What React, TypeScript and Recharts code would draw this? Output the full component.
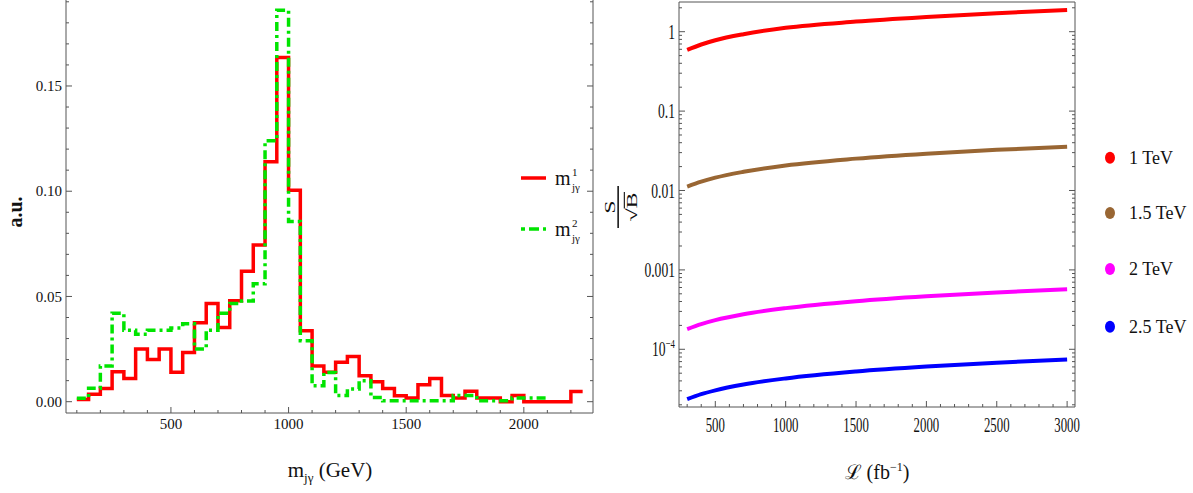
import React from "react";
import { LineChart, Line, XAxis, YAxis, Legend } from "recharts";

// ---- left panel: m_jγ distributions (50 GeV bins, lower edges) ----
const massEdges = [
  100, 150, 200, 250, 300, 350, 400, 450, 500, 550, 600, 650, 700, 750, 800, 850, 900, 950,
  1000, 1050, 1100, 1150, 1200, 1250, 1300, 1350, 1400, 1450, 1500, 1550, 1600, 1650, 1700,
  1750, 1800, 1850, 1900, 1950, 2000, 2050, 2100, 2150, 2200, 2250,
];
const histM1 = [
  0.001, 0.0035, 0.0063, 0.0142, 0.011, 0.025, 0.020, 0.025, 0.014, 0.0234, 0.0375, 0.0467,
  0.0353, 0.048, 0.062, 0.0744, 0.114, 0.1635, 0.1005, 0.0337, 0.017, 0.014, 0.0187, 0.0215,
  0.0123, 0.0095, 0.0063, 0.0028, 0.0017, 0.008, 0.011, 0.003, 0.0017, 0.005, 0.0017, 0.0017,
  0.0, 0.003, 0.0, 0.0, 0.0, 0.0, 0.0048,
];
const histM2 = [
  0.0016, 0.0064, 0.017, 0.042, 0.034, 0.032, 0.034, 0.034, 0.035, 0.037, 0.025, 0.034, 0.042,
  0.0467, 0.0478, 0.056, 0.124, 0.186, 0.0856, 0.029, 0.0076, 0.0139, 0.003, 0.006, 0.010,
  0.002, 0.0005, 0.0005, 0.0005, 0.0005, 0.0005, 0.0005, 0.003, 0.003, 0.0005, 0.0005, 0.0005,
  0.0017, 0.0017, 0.0017,
];
const massTicks = [
  100, 200, 300, 400, 500, 600, 700, 800, 900, 1000, 1100, 1200, 1300, 1400, 1500, 1600, 1700,
  1800, 1900, 2000, 2100, 2200,
];
const massLabels = [500, 1000, 1500, 2000];
const auTicks = [
  0, 0.01, 0.02, 0.03, 0.04, 0.05, 0.06, 0.07, 0.08, 0.09, 0.1, 0.11, 0.12, 0.13, 0.14, 0.15,
  0.16, 0.17, 0.18, 0.19,
];
const auLabels = [0, 0.05, 0.1, 0.15];

// ---- right panel: S/sqrt(B) vs luminosity ----
const lumi = [300, 400, 500, 700, 1000, 1500, 2000, 2500, 3000];
const sig1TeV = [0.59, 0.69, 0.78, 0.93, 1.12, 1.34, 1.53, 1.71, 1.87];
const sig15TeV = [0.0112, 0.0129, 0.0145, 0.0172, 0.0207, 0.0252, 0.0291, 0.0325, 0.0355];
const sig2TeV = [1.8e-4, 2.08e-4, 2.33e-4, 2.76e-4, 3.3e-4, 4.04e-4, 4.66e-4, 5.2e-4, 5.7e-4];
const sig25TeV = [2.35e-5, 2.72e-5, 3.04e-5, 3.6e-5, 4.3e-5, 5.26e-5, 6.07e-5, 6.79e-5, 7.45e-5];
const lumiTicks = [
  300, 400, 500, 600, 700, 800, 900, 1000, 1100, 1200, 1300, 1400, 1500, 1600, 1700, 1800, 1900,
  2000, 2100, 2200, 2300, 2400, 2500, 2600, 2700, 2800, 2900, 3000,
];
const lumiLabels = [500, 1000, 1500, 2000, 2500, 3000];
const decades = [1e-5, 1e-4, 1e-3, 0.01, 0.1, 1];
const mantissas = [1, 2, 3, 4, 5, 6, 7, 8, 9];
const massNames = ["1 TeV", "1.5 TeV", "2 TeV", "2.5 TeV"];
const massColors = ["#ff0000", "#996633", "#ff00ff", "#0000ff"];

const SIG_DOMAIN: [number, number] = [1.876e-5, 2.366];
const sigTicks = decades
  .flatMap((d) => mantissas.map((m) => m * d))
  .filter((v) => v >= SIG_DOMAIN[0] && v <= SIG_DOMAIN[1]);

const FONT = "'Liberation Serif', 'Times New Roman', serif";
const FRAME = "#555";

const toSteps = (vals: number[]) =>
  vals
    .map((v, i) => ({ m: massEdges[i], v }))
    .concat([{ m: massEdges[vals.length], v: vals[vals.length - 1] }]);

const stepsM1 = toSteps(histM1);
const stepsM2 = toSteps(histM2);
const sigData = lumi.map((L, i) => ({
  L,
  a: sig1TeV[i],
  b: sig15TeV[i],
  c: sig2TeV[i],
  d: sig25TeV[i],
}));

type Side = "bottom" | "top" | "left" | "right";

function makeTick(
  side: Side,
  isMajor: (v: number) => boolean,
  fmt: ((v: number) => React.ReactNode) | null,
  fontSize = 15,
  squeeze = 1,
  gap = 0
) {
  return (p: any) => {
    const { x, y, payload } = p;
    const v = payload.value as number;
    const major = isMajor(v);
    const len = major ? 6 : 3;
    let x2 = x;
    let y2 = y;
    if (side === "bottom") y2 = y - len;
    if (side === "top") y2 = y + len;
    if (side === "left") x2 = x + len;
    if (side === "right") x2 = x - len;
    let lbl: React.ReactNode = null;
    if (fmt && major) {
      if (side === "bottom")
        lbl = (
          <text transform={`translate(${x},${y + gap}) scale(${squeeze},1)`} textAnchor="middle"
            fontFamily={FONT} fontSize={fontSize} fill="#111">
            {fmt(v)}
          </text>
        );
      if (side === "left")
        lbl = (
          <text transform={`translate(${x - gap},${y}) scale(${squeeze},1)`} textAnchor="end"
            dy="0.35em" fontFamily={FONT} fontSize={fontSize} fill="#111">
            {fmt(v)}
          </text>
        );
    }
    return (
      <g>
        <line x1={x} y1={y} x2={x2} y2={y2} stroke={FRAME} strokeWidth={1} />
        {lbl}
      </g>
    );
  };
}

const isMass = (v: number) => massLabels.includes(v);
const isAu = (v: number) => auLabels.includes(v);
const isLumi = (v: number) => lumiLabels.includes(v);
const isDecade = (v: number) => decades.includes(v);

const fmtSig = (v: number) =>
  v >= 0.001 ? (
    String(v)
  ) : (
    <>
      <tspan>10</tspan>
      <tspan dy={-8} fontSize={13}>−{Math.round(-Math.log10(v))}</tspan>
    </>
  );

const axisCommon = {
  tickSize: 0,
  tickMargin: 0,
  tickLine: false,
  interval: 0 as const,
  allowDataOverflow: true,
  axisLine: { stroke: FRAME, strokeWidth: 1 },
};

function MassLegend() {
  return (
    <svg width={90} height={90}>
      <line x1={3} x2={28} y1={16} y2={16} stroke="#ff0000" strokeWidth={3.5} />
      <text x={37} y={23} fontFamily={FONT} fontSize={20} fill="#111">m</text>
      <text x={54} y={14} fontFamily={FONT} fontSize={11} fill="#111">1</text>
      <text x={54} y={29} fontFamily={FONT} fontSize={11} fill="#111">jγ</text>
      <line x1={3} x2={28} y1={67} y2={67} stroke="#00e400" strokeWidth={3.5} strokeDasharray="4 4 10 4" />
      <text x={37} y={74} fontFamily={FONT} fontSize={20} fill="#111">m</text>
      <text x={54} y={65} fontFamily={FONT} fontSize={11} fill="#111">2</text>
      <text x={54} y={80} fontFamily={FONT} fontSize={11} fill="#111">jγ</text>
    </svg>
  );
}

function SigLegend() {
  const ys = [17.7, 73, 129, 186.7];
  return (
    <svg width={103} height={200}>
      {massNames.map((n, i) => (
        <g key={n}>
          <ellipse cx={20} cy={ys[i]} rx={5} ry={6} fill={massColors[i]} />
          <text x={39} y={ys[i] + 6} fontFamily={FONT} fontSize={18} fill="#111">{n}</text>
        </g>
      ))}
    </svg>
  );
}

export default function App() {
  return (
    <div style={{ position: "absolute", left: 0, top: 0, width: 1193, height: 493, background: "#fff", overflow: "hidden" }}>
      <div style={{ position: "absolute", left: 0, top: -3 }}>
        <LineChart width={600} height={496} margin={{ top: 0, right: 6, bottom: 0, left: 0 }}>
          <XAxis dataKey="m" type="number" domain={[54, 2294]} ticks={massTicks} height={80}
            tick={makeTick("bottom", isMass, (v) => String(v), 15, 1, 16)} {...axisCommon} />
          <XAxis xAxisId="top" orientation="top" type="number" domain={[54, 2294]} ticks={massTicks}
            height={1} tick={makeTick("top", isMass, null)} {...axisCommon} />
          <YAxis type="number" domain={[-0.00537, 0.1918]} ticks={auTicks} width={66}
            tick={makeTick("left", isAu, (v) => v.toFixed(2), 15, 1, 4)} {...axisCommon} />
          <YAxis yAxisId="right" orientation="right" type="number" domain={[-0.00537, 0.1918]}
            ticks={auTicks} width={1} tick={makeTick("right", isAu, null)} {...axisCommon} />
          <Line data={stepsM1} dataKey="v" type="stepAfter" stroke="#ff0000" strokeWidth={3.5}
            dot={false} activeDot={false} isAnimationActive={false} />
          <Line data={stepsM2} dataKey="v" type="stepAfter" stroke="#00e400" strokeWidth={3.5}
            strokeDasharray="9 4 3 4" dot={false} activeDot={false} isAnimationActive={false} />
          <Legend layout="horizontal" align="center" verticalAlign="middle" content={() => <MassLegend />}
            wrapperStyle={{ left: 518, top: 165, width: 90, height: 90 }} />
        </LineChart>
      </div>

      <div style={{ position: "absolute", left: 600, top: 0 }}>
        <LineChart width={593} height={493} data={sigData} margin={{ top: 1, right: 117, bottom: 0, left: 0 }}>
          <XAxis dataKey="L" type="number" domain={[242, 3056]} ticks={lumiTicks} height={86}
            tick={makeTick("bottom", isLumi, (v) => String(v), 20, 0.64, 25)} {...axisCommon} />
          <XAxis xAxisId="top" orientation="top" type="number" domain={[242, 3056]} ticks={lumiTicks}
            height={1} tick={makeTick("top", isLumi, null)} {...axisCommon} />
          <YAxis type="number" scale="log" domain={SIG_DOMAIN} ticks={sigTicks} width={79}
            tick={makeTick("left", isDecade, fmtSig, 20, 0.68, 4)} {...axisCommon} />
          <YAxis yAxisId="right" orientation="right" type="number" scale="log" domain={SIG_DOMAIN}
            ticks={sigTicks} width={1} tick={makeTick("right", isDecade, null)} {...axisCommon} />
          <Line dataKey="a" type="monotone" stroke={massColors[0]} strokeWidth={4} dot={false} activeDot={false} isAnimationActive={false} />
          <Line dataKey="b" type="monotone" stroke={massColors[1]} strokeWidth={4} dot={false} activeDot={false} isAnimationActive={false} />
          <Line dataKey="c" type="monotone" stroke={massColors[2]} strokeWidth={4} dot={false} activeDot={false} isAnimationActive={false} />
          <Line dataKey="d" type="monotone" stroke={massColors[3]} strokeWidth={4} dot={false} activeDot={false} isAnimationActive={false} />
          <Legend layout="horizontal" align="center" verticalAlign="middle" content={() => <SigLegend />}
            wrapperStyle={{ left: 490, top: 140, width: 103, height: 200 }} />
        </LineChart>
      </div>

      <svg width={1193} height={493} style={{ position: "absolute", left: 0, top: 0, pointerEvents: "none" }}>
        <text transform="translate(22,212) rotate(-90)" textAnchor="middle" fontFamily={FONT} fontSize={20} fontWeight="bold" fill="#111">
          a.u.
        </text>
        <text x={330} y={477} textAnchor="middle" fontFamily={FONT} fontSize={21} fill="#111">
          m<tspan dy={5} fontSize={13}>jγ</tspan>
          <tspan dy={-5}> (GeV)</tspan>
        </text>
        <text x={877} y={479} textAnchor="middle" fontFamily={FONT} fontSize={20} fill="#111">
          ℒ (fb<tspan dy={-8} fontSize={12}>−1</tspan>
          <tspan dy={8}>)</tspan>
        </text>
        <g transform="translate(620,207) scale(0.62,1) rotate(-90)">
          <text x={0} y={-8} textAnchor="middle" fontFamily={FONT} fontSize={24} fill="#111">S</text>
          <line x1={-21} x2={21} y1={-3} y2={-3} stroke="#111" strokeWidth={2.5} />
          <text x={0} y={27} textAnchor="middle" fontFamily={FONT} fontSize={24} fill="#111">√B</text>
          <line x1={-1.5} x2={15} y1={7} y2={7} stroke="#111" strokeWidth={1.8} />
        </g>
      </svg>
    </div>
  );
}
